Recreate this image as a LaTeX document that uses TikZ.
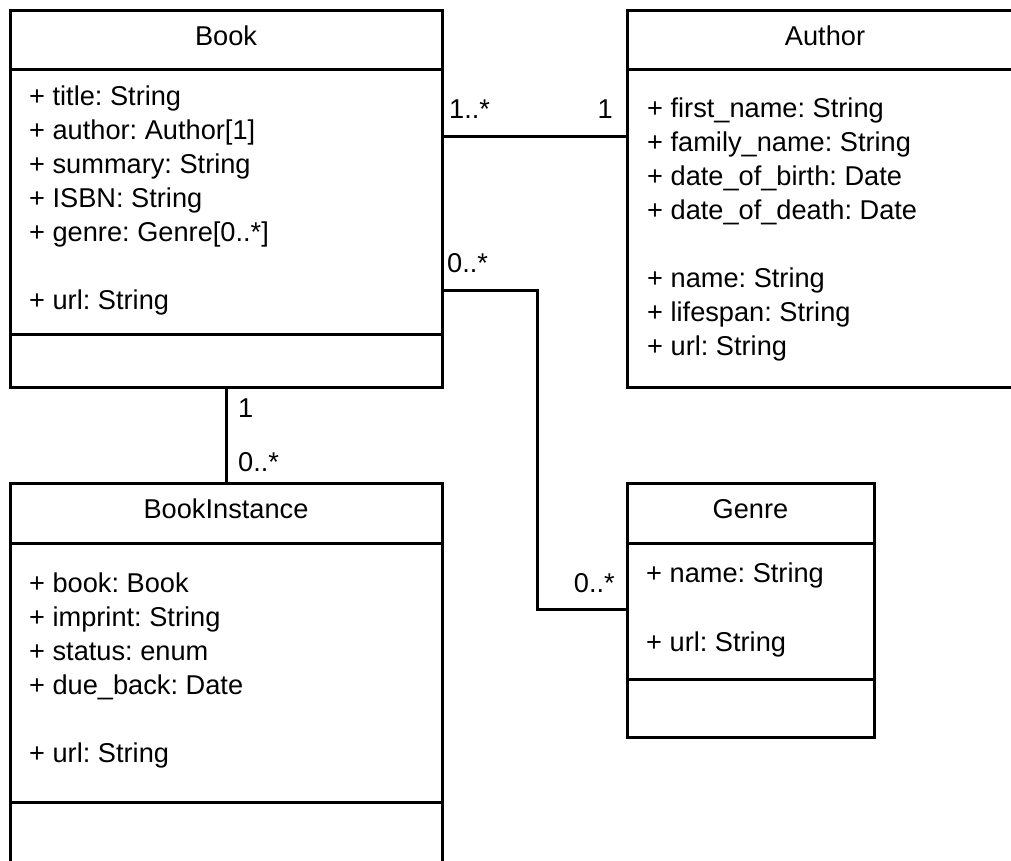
\documentclass[tikz,border=0pt]{standalone}
\usepackage{fontspec}
\setmainfont{Liberation Sans}
\frenchspacing
\begin{document}
\begin{tikzpicture}[x=1pt,y=-1pt,
  box/.style={draw, line width=3pt, rectangle, inner sep=0pt, outer sep=0pt, anchor=north west},
  sep/.style={line width=3pt},
  conn/.style={line width=3pt},
  txt/.style={anchor=base west, inner sep=0pt, font=\fontsize{27.2}{30}\selectfont},
  ttl/.style={anchor=base, inner sep=0pt, font=\fontsize{27.2}{30}\selectfont},
  lblr/.style={anchor=base east, inner sep=0pt, font=\fontsize{27.2}{30}\selectfont}]
\useasboundingbox (0,0) rectangle (1011,860);
\clip (0,0) rectangle (1011,860);
\fill[white] (0,0) rectangle (1011,860);

% class boxes
\node[box, minimum width=432pt, minimum height=377pt] (book) at (10,10) {};
\node[box, minimum width=396pt, minimum height=377pt] (author) at (627,10) {};
\node[box, minimum width=432pt, minimum height=390pt] (inst) at (10,483) {};
\node[box, minimum width=247pt, minimum height=254pt] (genre) at (627,483) {};

% compartments
\draw[sep] (book.west |- 0,69) -- (book.east |- 0,69);
\draw[sep] (book.west |- 0,334) -- (book.east |- 0,334);
\draw[sep] (author.west |- 0,69) -- (author.east |- 0,69);
\draw[sep] (inst.west |- 0,543) -- (inst.east |- 0,543);
\draw[sep] (inst.west |- 0,802) -- (inst.east |- 0,802);
\draw[sep] (genre.west |- 0,543) -- (genre.east |- 0,543);
\draw[sep] (genre.west |- 0,679) -- (genre.east |- 0,679);

% titles
\node[ttl] (tbook) at (226,45) {Book};
\node[ttl] (tauthor) at (825,45) {Author};
\node[ttl] (tinst) at (226,518) {BookInstance};
\node[ttl] (tgenre) at (750.5,518) {Genre};

% Book attributes
\node[txt] (b1) at (29,105) {+ title: String};
\node[txt] (b2) at (29,139) {+ author: Author[1]};
\node[txt] (b3) at (29,173) {+ summary: String};
\node[txt] (b4) at (29,207) {+ ISBN: String};
\node[txt] (b5) at (29,241) {+ genre: Genre[0..*]};
\node[txt] (b6) at (29,309) {+ url: String};

% Author attributes
\node[txt] (a1) at (647,117) {+ first\_name: String};
\node[txt] (a2) at (647,151) {+ family\_name: String};
\node[txt] (a3) at (647,185) {+ date\_of\_birth: Date};
\node[txt] (a4) at (647,219) {+ date\_of\_death: Date};
\node[txt] (a5) at (647,287) {+ name: String};
\node[txt] (a6) at (647,321) {+ lifespan: String};
\node[txt] (a7) at (647,355) {+ url: String};

% BookInstance attributes
\node[txt] (i1) at (29,592) {+ book: Book};
\node[txt] (i2) at (29,626) {+ imprint: String};
\node[txt] (i3) at (29,660) {+ status: enum};
\node[txt] (i4) at (29,694) {+ due\_back: Date};
\node[txt] (i5) at (29,762) {+ url: String};

% Genre attributes
\node[txt] (g1) at (646,582) {+ name: String};
\node[txt] (g2) at (646,651) {+ url: String};

% connectors
\draw[conn] (book.east |- 0,136) -- (author.west |- 0,136);
\draw[conn] (book.east |- 0,290) -| (537,609) -- (genre.west |- 0,609);
\draw[conn] (book.south) -- (inst.north);

% multiplicities
\node[txt] (m1) at (449,118) {1..*};
\node[lblr] (m2) at (613,118) {1};
\node[txt] (m3) at (447,272) {0..*};
\node[lblr] (m4) at (615,592) {0..*};
\node[txt] (m5) at (238,417) {1};
\node[txt] (m6) at (238,471) {0..*};
\end{tikzpicture}
\end{document}
